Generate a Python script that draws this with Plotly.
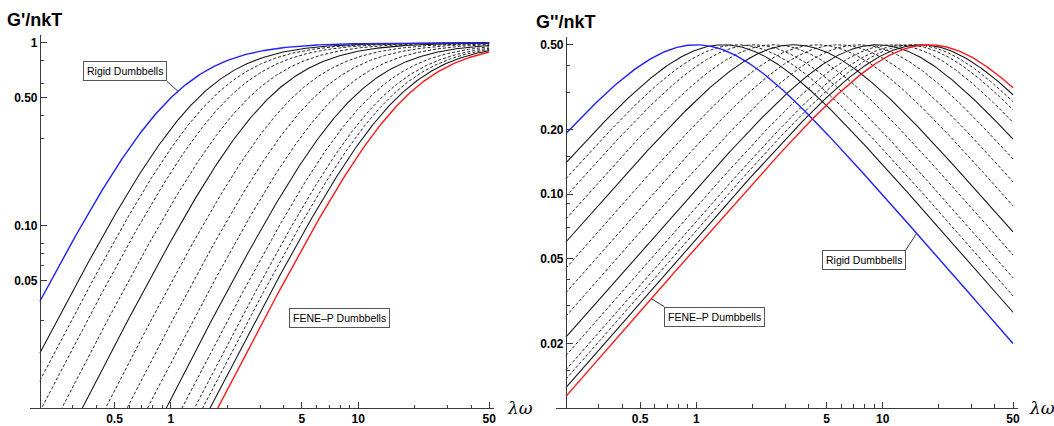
import numpy as np
import plotly.graph_objects as go

# λω at which each dumbbell model's loss modulus peaks (inverse relative relaxation time)
rigid_peak = 1.0
fene_p_peak = 17.7
intermediate_peaks = [1.40, 1.67, 2.03, 2.60, 3.34, 4.44, 5.78, 7.46, 9.35, 11.4, 13.3, 14.7, 16.1]
intermediate_styles = ["solid", "dashed", "dashed", "dashed"] * 3 + ["solid"]

lam_omega_min = 0.2
lam_omega_max = 50.0

x_tick_vals = [0.5, 1, 5, 10, 50]
x_tick_text = ["0.5", "1", "5", "10", "50"]
x_minor_vals = [0.3, 0.4, 0.6, 0.7, 0.8, 0.9, 2, 3, 4, 6, 7, 8, 9, 20, 30, 40]

gp_tick_vals = [1, 0.5, 0.1, 0.05]
gp_tick_text = ["1", "0.50", "0.10", "0.05"]
gp_minor_vals = [0.8, 0.6, 0.4, 0.3, 0.08, 0.07, 0.06, 0.03]

gpp_tick_vals = [0.5, 0.2, 0.1, 0.05, 0.02]
gpp_tick_text = ["0.50", "0.20", "0.10", "0.05", "0.02"]
gpp_minor_vals = [0.4, 0.3, 0.15, 0.09, 0.07, 0.04, 0.03, 0.015]


def storage(lw, peak):
    u = lw / peak
    return u ** 2 / (1 + u ** 2)


def loss(lw, peak):
    u = lw / peak
    return u / (1 + u ** 2)


lw = np.logspace(np.log10(lam_omega_min), np.log10(lam_omega_max), 500)

W, H = 1054, 426
FONT = "Liberation Sans, Arial, Helvetica, sans-serif"
AXIS = "#3a3a3a"

fig = go.Figure()

for peak, style in zip(intermediate_peaks, intermediate_styles):
    if style == "solid":
        line = dict(color="#111111", width=1.05)
    else:
        line = dict(color="#222222", width=1.0, dash="3px,2px")
    fig.add_trace(go.Scatter(x=lw, y=storage(lw, peak), mode="lines", line=line,
                             xaxis="x", yaxis="y", hoverinfo="skip"))
    fig.add_trace(go.Scatter(x=lw, y=loss(lw, peak), mode="lines", line=line,
                             xaxis="x2", yaxis="y2", hoverinfo="skip"))

for peak, color in [(rigid_peak, "#1f1fff"), (fene_p_peak, "#ff1a1a")]:
    fig.add_trace(go.Scatter(x=lw, y=storage(lw, peak), mode="lines",
                             line=dict(color=color, width=1.4), xaxis="x", yaxis="y"))
    fig.add_trace(go.Scatter(x=lw, y=loss(lw, peak), mode="lines",
                             line=dict(color=color, width=1.4), xaxis="x2", yaxis="y2"))

# pixel geometry of the two panels
L_dec, R_dec = 187.7, 186.8          # px per decade along λω
L_x0, R_x0 = 40, 567                 # px position of λω = 0.2
span = np.log10(lam_omega_max / lam_omega_min)

tickfont = dict(family=FONT, size=12, color="black", weight="bold")


def x_axis(dec, x0, anchor):
    return dict(
        type="log",
        range=[np.log10(lam_omega_min) - 10 / dec, np.log10(lam_omega_max) + 5 / dec],
        domain=[(x0 - 10) / W, (x0 + span * dec + 5) / W],
        anchor=anchor, showline=True, linecolor=AXIS, linewidth=1,
        ticks="inside", ticklen=6, tickcolor=AXIS, tickwidth=1,
        tickmode="array", tickvals=x_tick_vals, ticktext=x_tick_text,
        tickfont=tickfont, showgrid=False, zeroline=False,
        minor=dict(tickmode="array", tickvals=x_minor_vals, ticks="inside",
                   ticklen=3.5, tickcolor=AXIS, showgrid=False),
    )


def y_axis(rng, top_px, bot_px, xpos, vals, text, minor):
    return dict(
        type="log", range=rng,
        domain=[1 - bot_px / H, 1 - top_px / H],
        anchor="free", position=xpos / W,
        showline=True, linecolor=AXIS, linewidth=1,
        ticks="inside", ticklen=6, tickcolor=AXIS, tickwidth=1,
        tickmode="array", tickvals=vals, ticktext=text,
        tickfont=tickfont, showgrid=False, zeroline=False,
        minor=dict(tickmode="array", tickvals=minor, ticks="inside",
                   ticklen=3.5, tickcolor=AXIS, showgrid=False),
    )


# left: 1 at y=43 px, 0.01 at y=410 px; right: 0.5 at y=45 px, 0.02 at y=345 px
L_ydec = (410 - 43) / 2.0
R_ydec = (345 - 45) / np.log10(25)
R_bot = 45 + (np.log10(0.5) + 2) * R_ydec

fig.update_layout(
    width=W, height=H,
    margin=dict(l=0, r=0, t=0, b=0),
    paper_bgcolor="white", plot_bgcolor="white",
    showlegend=False,
    xaxis=x_axis(L_dec, L_x0, "y"),
    xaxis2=x_axis(R_dec, R_x0, "y2"),
    yaxis=y_axis([-2, 8 / L_ydec], 35, 410, L_x0, gp_tick_vals, gp_tick_text, gp_minor_vals),
    yaxis2=y_axis([-2, np.log10(0.5) + 8 / R_ydec], 37, R_bot, R_x0,
                  gpp_tick_vals, gpp_tick_text, gpp_minor_vals),
)

titlefont = dict(family=FONT, size=18, color="black", weight="bold")
fig.add_annotation(text="G'/nkT", xref="paper", yref="paper", x=5 / W, y=1 - 20 / H,
                   xanchor="left", yanchor="middle", showarrow=False, font=titlefont)
fig.add_annotation(text="G''/nkT", xref="paper", yref="paper", x=535 / W, y=1 - 22 / H,
                   xanchor="left", yanchor="middle", showarrow=False, font=titlefont)

lwfont = dict(family="DejaVu Serif, serif", size=17, color="black")
for xp in (506, 1029):
    fig.add_annotation(text="<i>λω</i>", xref="paper", yref="paper", x=xp / W, y=1 - 410 / H,
                       xanchor="left", yanchor="middle", showarrow=False, font=lwfont)

labelfont = dict(family=FONT, size=10.5, color="black")


def callout(text, xa, ya, at, peak, func, ax, ay, xanchor, yanchor):
    fig.add_annotation(text=text, xref=xa, yref=ya, x=np.log10(at), y=np.log10(func(at, peak)),
                       ax=ax, ay=ay, xanchor=xanchor, yanchor=yanchor,
                       showarrow=True, arrowhead=0, arrowwidth=1, arrowcolor="#333",
                       bgcolor="white", bordercolor="#555", borderwidth=1, borderpad=3,
                       font=labelfont)


callout("Rigid Dumbbells", "x", "y", 1.09, rigid_peak, storage, -11, -10, "right", "bottom")
callout("FENE–P Dumbbells", "x", "y", 3.67, fene_p_peak, storage, 12, 12, "left", "top")
callout("Rigid Dumbbells", "x2", "y2", 15.2, rigid_peak, loss, -11, 17, "right", "top")
callout("FENE–P Dumbbells", "x2", "y2", 0.574, fene_p_peak, loss, 13, 8, "left", "top")

fig.write_html("out.html")
